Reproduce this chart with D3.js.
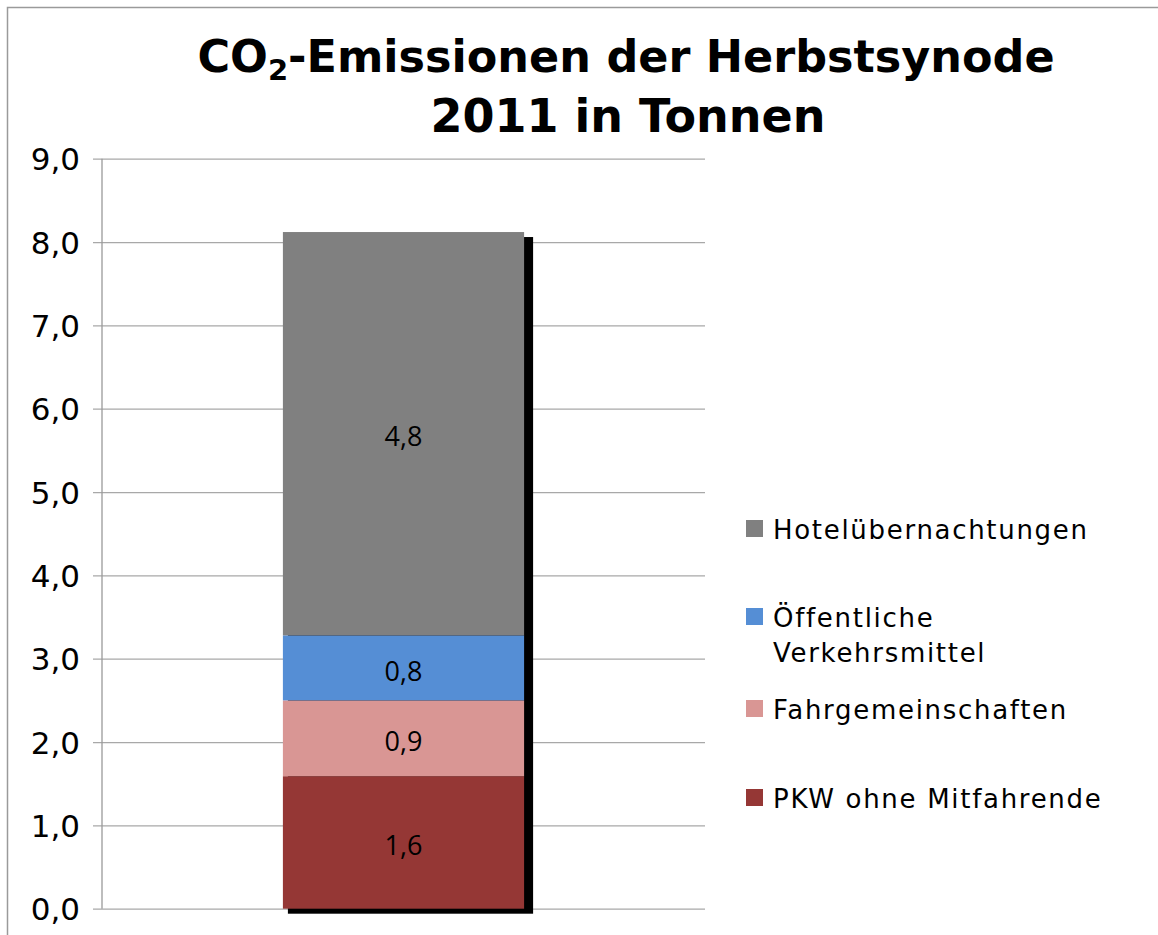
<!DOCTYPE html>
<html>
<head>
<meta charset="utf-8">
<script src="https://d3js.org/d3.v7.min.js"></script>
<style>
  body { margin: 0; background: #fff; }
  svg { display: block; }
</style>
</head>
<body>
<svg id="chart" width="1158" height="935"></svg>
<script>
  // series, bottom to top
  const series = ["PKW ohne Mitfahrende", "Fahrgemeinschaften", "Öffentliche Verkehrsmittel", "Hotelübernachtungen"];
  const values = [1.59, 0.91, 0.78, 4.84];
  const labels = ["1,6", "0,9", "0,8", "4,8"];
  const colors = ["#953735", "#d99694", "#558ed5", "#808080"];
  const yTicks = [0, 1, 2, 3, 4, 5, 6, 7, 8, 9];
  const category = ["2011"];

  let svg = d3.select("#chart");

  // outer chart border
  svg.append("rect")
    .attr("x", 7.5).attr("y", 7.5)
    .attr("width", 1170).attr("height", 950)
    .attr("fill", "none")
    .attr("stroke", "#9a9a9a")
    .attr("stroke-width", 1.5);

  const plotLeft = 102, plotRight = 705, plotTop = 158.7, plotBottom = 908.7;

  let y = d3.scaleLinear().domain([0, 9]).range([plotBottom, plotTop]);
  let x = d3.scaleBand().domain(category).range([plotLeft, plotRight]).paddingInner(0).paddingOuter(0.75);

  // gridlines + axis
  let yAxis = d3.axisLeft(y)
    .tickValues(yTicks)
    .tickSize(-(plotRight - plotLeft))
    .tickFormat(d => d3.format(".1f")(d).replace(".", ","));
  let g = svg.append("g").attr("transform", `translate(${plotLeft},0)`).call(yAxis);
  g.select(".domain").remove();
  g.selectAll(".tick line")
    .attr("x1", -9)
    .attr("stroke", "#a8a8a8")
    .attr("stroke-width", 1.3);
  g.selectAll(".tick text")
    .attr("x", -22)
    .attr("dy", "0.36em")
    .attr("font-family", "DejaVu Sans, Verdana, sans-serif")
    .attr("font-size", 31)
    .attr("fill", "#000");

  svg.append("line")
    .attr("x1", plotLeft).attr("x2", plotLeft)
    .attr("y1", plotTop).attr("y2", plotBottom)
    .attr("stroke", "#9a9a9a").attr("stroke-width", 1.3);

  // stack the segments
  let stacked = [];
  let acc = 0;
  values.forEach((v, i) => {
    stacked.push({ y0: acc, y1: acc + v, color: colors[i], label: labels[i], name: series[i] });
    acc += v;
  });

  const bx = x(category[0]);
  const bw = x.bandwidth();

  // shadow
  svg.append("rect")
    .attr("x", bx + 5)
    .attr("y", y(acc) + 5)
    .attr("width", bw + 4)
    .attr("height", y(0) - y(acc))
    .attr("fill", "#000");

  svg.selectAll(".seg")
    .data(stacked)
    .join("rect")
    .attr("class", "seg")
    .attr("x", bx)
    .attr("width", bw)
    .attr("y", d => y(d.y1))
    .attr("height", d => y(d.y0) - y(d.y1))
    .attr("fill", d => d.color);

  svg.selectAll(".lbl")
    .data(stacked)
    .join("text")
    .attr("class", "lbl")
    .attr("x", bx + bw / 2)
    .attr("y", d => (y(d.y0) + y(d.y1)) / 2)
    .attr("dy", "0.47em")
    .attr("text-anchor", "middle")
    .attr("font-family", "Open Sans, sans-serif")
    .attr("font-size", 27)
    .text(d => d.label);

  // title
  let title = svg.append("text")
    .attr("text-anchor", "middle")
    .attr("font-family", "DejaVu Sans, Verdana, sans-serif")
    .attr("font-weight", "bold")
    .attr("font-size", 46);
  let t1 = title.append("tspan").attr("x", 626).attr("y", 72).attr("font-size", 44.5);
  t1.append("tspan").text("CO");
  t1.append("tspan").attr("font-size", 29).attr("dy", 8).text("2");
  t1.append("tspan").attr("dy", -8).text("-Emissionen der Herbstsynode");
  title.append("tspan").attr("x", 628).attr("y", 132).text("2011 in Tonnen");

  // legend, top to bottom
  const legendItems = [
    { name: ["Hotelübernachtungen"], color: colors[3], y: 520 },
    { name: ["Öffentliche", "Verkehrsmittel"], color: colors[2], y: 608 },
    { name: ["Fahrgemeinschaften"], color: colors[1], y: 700 },
    { name: ["PKW ohne Mitfahrende"], color: colors[0], y: 789 }
  ];
  let leg = svg.selectAll(".leg")
    .data(legendItems)
    .join("g")
    .attr("class", "leg")
    .attr("transform", d => `translate(746,${d.y})`);
  leg.append("rect")
    .attr("width", 17).attr("height", 17)
    .attr("fill", d => d.color);
  leg.append("text")
    .attr("font-family", "DejaVu Sans, Verdana, sans-serif")
    .attr("font-size", 26)
    .attr("letter-spacing", 1.7)
    .selectAll("tspan")
    .data(d => d.name)
    .join("tspan")
    .attr("x", 27)
    .attr("y", (d, i) => 19 + i * 35)
    .text(d => d);
</script>
</body>
</html>
